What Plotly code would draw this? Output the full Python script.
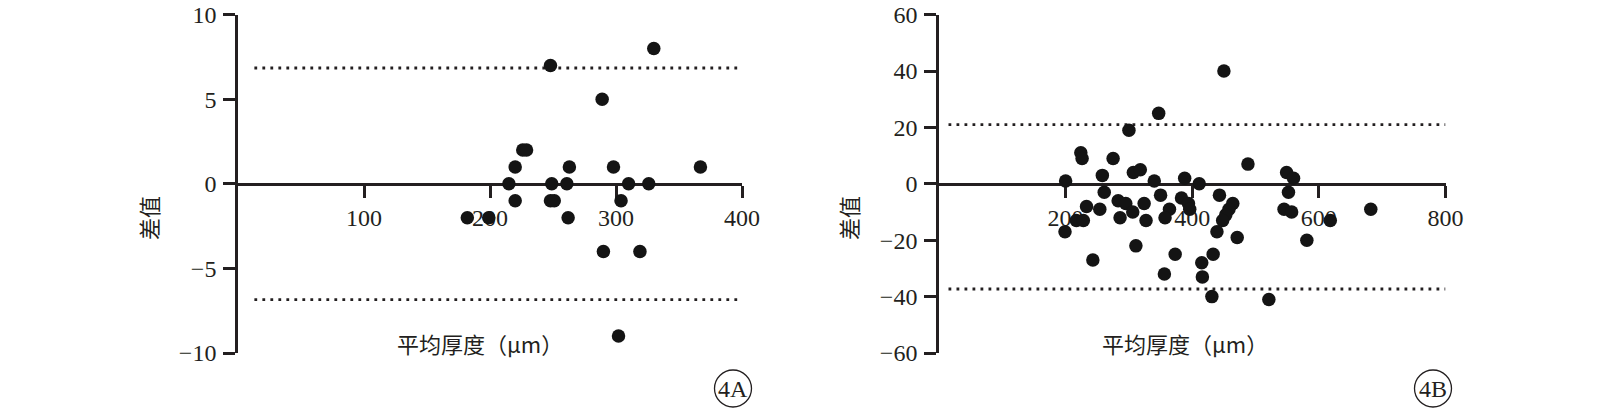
import plotly.graph_objects as go

# ---------------- data ----------------
# Panel 4A
a_mean = [182, 199, 215, 220, 220, 226, 229, 248, 249, 248, 251, 261, 263, 262,
          289, 290, 298, 302, 304, 310, 319, 326, 330, 367]
a_diff = [-2, -2, 0, 1, -1, 2, 2, 7, 0, -1, -1, 0, 1, -2,
          5, -4, 1, -9, -1, 0, -4, 0, 8, 1]
a_limits = [6.85, -6.85]
a_limit_x = [13, 400]
a_xticks = [100, 200, 300, 400]
a_yticks = [-10, -5, 0, 5, 10]
a_xrange = [0, 400]
a_yrange = [-10, 10]

# Panel 4B
b_mean = [450, 347, 300, 224, 226, 275, 200, 258, 307, 318, 340, 388, 411, 261,
          233, 254, 217, 228, 199, 243, 283, 295, 306, 286, 324, 327, 311, 350,
          364, 357, 383, 394, 396, 373, 356, 443, 464, 458, 453, 448, 439, 471,
          433, 415, 416, 431, 488, 521, 549, 560, 552, 545, 557, 581, 618, 682]
b_diff = [40, 25, 19, 11, 9, 9, 1, 3, 4, 5, 1, 2, 0, -3,
          -8, -9, -13, -13, -17, -27, -6, -7, -10, -12, -7, -13, -22, -4,
          -9, -12, -5, -7, -9, -25, -32, -4, -7, -9, -11, -13, -17, -19,
          -25, -28, -33, -40, 7, -41, 4, 2, -3, -9, -10, -20, -13, -9]
b_limits = [21, -37.3]
b_limit_x = [15, 800]
b_xticks = [200, 400, 600, 800]
b_yticks = [-60, -40, -20, 0, 20, 40, 60]
b_xrange = [0, 800]
b_yrange = [-60, 60]

x_title = "平均厚度（μm）"
y_title = "差值"
panel_labels = ["4A", "4B"]

# ---------------- style ----------------
W, H = 1600, 412
INK = "#231f20"
DOT = "#141414"
SERIF = "Liberation Serif, Times New Roman, serif"
CJK = "Noto Sans CJK SC, Noto Sans, sans-serif"

def px_x(p):
    return p / W

def px_y(p):
    return 1 - p / H

y_dom = [px_y(353), px_y(14.7)]
x_dom_a = [px_x(238), px_x(742)]
x_dom_b = [px_x(939), px_x(1445.5)]

fig = go.Figure()

def add_panel(xs, ys, limits, limit_x, xa, ya):
    for lv in limits:
        fig.add_trace(go.Scatter(
            x=limit_x, y=[lv, lv], mode="lines",
            line=dict(color=INK, width=2.8, dash="2.8px,5.2px"),
            xaxis=xa, yaxis=ya, hoverinfo="skip"))
    fig.add_trace(go.Scatter(
        x=xs, y=ys, mode="markers",
        marker=dict(size=13.5, color=DOT, line=dict(width=0)),
        xaxis=xa, yaxis=ya))

add_panel(a_mean, a_diff, a_limits, a_limit_x, "x", "y")
add_panel(b_mean, b_diff, b_limits, b_limit_x, "x2", "y2")

def zero_pos(yr):
    return y_dom[0] + (0 - yr[0]) / (yr[1] - yr[0]) * (y_dom[1] - y_dom[0])

common_x = dict(
    anchor="free", showline=True, linewidth=2.6, linecolor=INK,
    ticks="outside", ticklen=12, tickwidth=2.6, tickcolor=INK,
    showgrid=False, zeroline=False, layer="below traces", automargin=False,
    tickfont=dict(family=SERIF, size=24, color=INK), ticklabelstandoff=0,
)
common_y = dict(
    showline=True, linewidth=2.6, linecolor=INK,
    ticks="outside", ticklen=12, tickwidth=2.6, tickcolor=INK,
    showgrid=False, zeroline=False, layer="below traces", automargin=False,
    tickfont=dict(family=SERIF, size=24, color=INK), ticklabelstandoff=2,
)

fig.update_layout(
    template="none",
    width=W, height=H,
    margin=dict(l=0, r=0, t=0, b=0, pad=0),
    plot_bgcolor="white", paper_bgcolor="white",
    showlegend=False,
    xaxis=dict(domain=x_dom_a, range=a_xrange, tickvals=a_xticks,
               position=zero_pos(a_yrange), **common_x),
    yaxis=dict(domain=y_dom, range=a_yrange, tickvals=a_yticks,
               anchor="x", **common_y),
    xaxis2=dict(domain=x_dom_b, range=b_xrange, tickvals=b_xticks,
                position=zero_pos(b_yrange), **common_x),
    yaxis2=dict(domain=y_dom, range=b_yrange, tickvals=b_yticks,
                anchor="x2", **common_y),
)

annots = []
shapes = []
titles = [
    dict(xt=480, yl=148, lab=733, text=panel_labels[0]),
    dict(xt=1185, yl=848, lab=1433, text=panel_labels[1]),
]
for t in titles:
    annots.append(dict(x=px_x(t["xt"]), y=px_y(343), xref="paper", yref="paper",
                       text=x_title, showarrow=False, xanchor="center", yanchor="middle",
                       font=dict(family=CJK, size=22, color=INK)))
    annots.append(dict(x=px_x(t["yl"]), y=px_y(218), xref="paper", yref="paper",
                       text=y_title, showarrow=False, textangle=-90,
                       xanchor="center", yanchor="middle",
                       font=dict(family=CJK, size=22, color=INK)))
    annots.append(dict(x=px_x(t["lab"]), y=px_y(389), xref="paper", yref="paper",
                       text=t["text"], showarrow=False, xanchor="center", yanchor="middle",
                       font=dict(family=SERIF, size=24, color=INK)))
    shapes.append(dict(type="circle", xref="paper", yref="paper",
                       xsizemode="pixel", ysizemode="pixel",
                       xanchor=px_x(t["lab"]), yanchor=px_y(388.5),
                       x0=-18.5, x1=18.5, y0=-18.5, y1=18.5,
                       line=dict(color=INK, width=1.3)))

fig.update_layout(annotations=annots, shapes=shapes)

fig.write_html(
    "out.html",
    config={"displayModeBar": False},
    post_script="document.body.style.margin='0';document.body.style.overflow='hidden';",
)
